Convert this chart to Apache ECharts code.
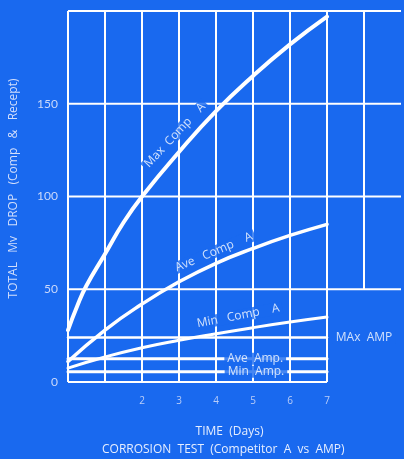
<!DOCTYPE html>
<html>
<head>
<meta charset="utf-8">
<script src="https://cdn.jsdelivr.net/npm/echarts@6/dist/echarts.min.js"></script>
<style>
  html, body { margin: 0; padding: 0; background: #1969ef; }
  #chart { width: 404px; height: 459px; }
</style>
</head>
<body>
<div id="chart"></div>
<script>
// Corrosion test: total mV drop over time, Competitor A vs AMP
const maxCompDays = [0, 0.25, 0.5, 1, 1.5, 2, 3, 4, 5, 6, 7];
const maxCompA    = [28, 41, 52, 69, 86, 100, 124, 146, 165, 182, 197];

const compDays = [0, 1, 2, 3, 4, 5, 6, 7];
const aveCompA = [11, 28, 42, 54, 64, 72, 79, 85];
const minCompA = [7.5, 13.5, 18.5, 22.5, 26, 29.3, 32.3, 35];

const ampDays = [0, 7];
const maxAmp  = [24, 24];
const aveAmp  = [12.5, 12.5];
const minAmp  = [5.5, 5.5];

const yTickLabels = [0, 50, 100, 150];
const xTickLabels = [2, 3, 4, 5, 6, 7];

// frame of the chart: day columns and mV rows
const frameDays   = [0, 1, 2, 3, 4, 5, 6, 7, 8];
const frameLevels = [0, 50, 100, 150, 200];
const dayMax = 9, levelMax = 200;
const panelDay = 7, panelLevel = 50;   // lower-right block is left open for the AMP note

const BG = '#1969ef';
const FONT = '"Open Sans", "DejaVu Sans", sans-serif';

// grid segments in data units [x0, y0, x1, y1]
const segments = [];
frameDays.forEach(d => {
  const bottom = d > panelDay ? panelLevel : 0;
  segments.push([d, bottom, d, levelMax]);
});
frameLevels.forEach(v => {
  const end = v < panelLevel ? panelDay : dayMax;
  segments.push([0, v, end, v]);
});

const zip = (xs, ys) => xs.map((x, i) => [x, ys[i]]);

// text notes placed in data units
const notes = [
  { at: [2.89, 133], text: 'Max  Comp    A', rotate: 47 },
  { at: [3.94, 70],  text: 'Ave   Comp    A', rotate: 23 },
  { at: [4.6, 35.6], text: 'Min   Comp    A', rotate: 11 },
  { at: [5.06, aveAmp[0]], text: 'Ave  Amp.', rotate: 0 },
  { at: [5.08, minAmp[0]], text: 'Min  Amp.', rotate: 0 },
  { at: [8.0, maxAmp[0]],  text: 'MAx  AMP', rotate: 0 }
];

const chart = echarts.init(document.getElementById('chart'));

const curve = (name, data, width) => ({
  name, type: 'line', data, smooth: 0.5, symbol: 'none', z: 3,
  lineStyle: { color: '#ffffff', width, cap: 'round' },
  clip: false
});

chart.setOption({
  backgroundColor: BG,
  animation: false,
  grid: { left: 68, right: 0, top: 11, bottom: 77 },
  title: {
    text: 'CORROSION  TEST  (Competitor  A  vs  AMP)',
    left: 97, top: 439,
    textStyle: { color: '#e6eeff', fontSize: 12, fontWeight: 'normal', fontFamily: FONT }
  },
  xAxis: {
    type: 'value', min: 0, max: dayMax, interval: 1,
    name: 'TIME  (Days)', nameLocation: 'middle', nameGap: 44,
    nameTextStyle: { color: '#e6eeff', fontSize: 12, fontFamily: FONT, padding: [0, 10, 0, 0] },
    axisLine: { show: false }, axisTick: { show: false }, splitLine: { show: false },
    axisLabel: {
      color: '#b9cdf8', fontSize: 10, fontFamily: FONT, margin: 14,
      formatter: v => xTickLabels.includes(v) ? String(v) : ''
    }
  },
  yAxis: {
    type: 'value', min: 0, max: levelMax, interval: 50,
    name: 'TOTAL   Mv   DROP   (Comp   &   Recept)', nameLocation: 'middle', nameGap: 48,
    nameTextStyle: { color: '#d2defb', fontSize: 12, fontFamily: FONT, padding: [0, 0, 0, 16] },
    axisLine: { show: false }, axisTick: { show: false }, splitLine: { show: false },
    axisLabel: {
      color: '#cbd9fb', fontSize: 12, fontFamily: 'Lato, "Open Sans", sans-serif', margin: 10,
      formatter: v => yTickLabels.includes(v) ? String(v) : ''
    }
  },
  series: [
    {
      type: 'custom', z: 1, silent: true, clip: false,
      data: segments,
      encode: { x: [0, 2], y: [1, 3] },
      renderItem: (params, api) => {
        const a = api.coord([api.value(0), api.value(1)]);
        const b = api.coord([api.value(2), api.value(3)]);
        return {
          type: 'line',
          shape: { x1: a[0], y1: a[1], x2: b[0], y2: b[1] },
          style: { stroke: '#ffffff', lineWidth: 2 }
        };
      }
    },
    curve('Max Comp A', zip(maxCompDays, maxCompA), 4),
    curve('Ave Comp A', zip(compDays, aveCompA), 3.5),
    curve('Min Comp A', zip(compDays, minCompA), 3),
    curve('Max Amp', zip(ampDays, maxAmp), 2.5),
    curve('Ave Amp', zip(ampDays, aveAmp), 3),
    curve('Min Amp', zip(ampDays, minAmp), 3),
    {
      type: 'scatter', z: 6, silent: true, symbolSize: 0,
      data: notes.map(n => ({
        value: n.at,
        label: { formatter: n.text, rotate: n.rotate }
      })),
      label: {
        show: true, position: 'inside',
        color: '#ffffff', fontSize: 12, fontFamily: FONT,
        backgroundColor: BG, padding: [0, 3]
      }
    }
  ]
});
</script>
</body>
</html>
